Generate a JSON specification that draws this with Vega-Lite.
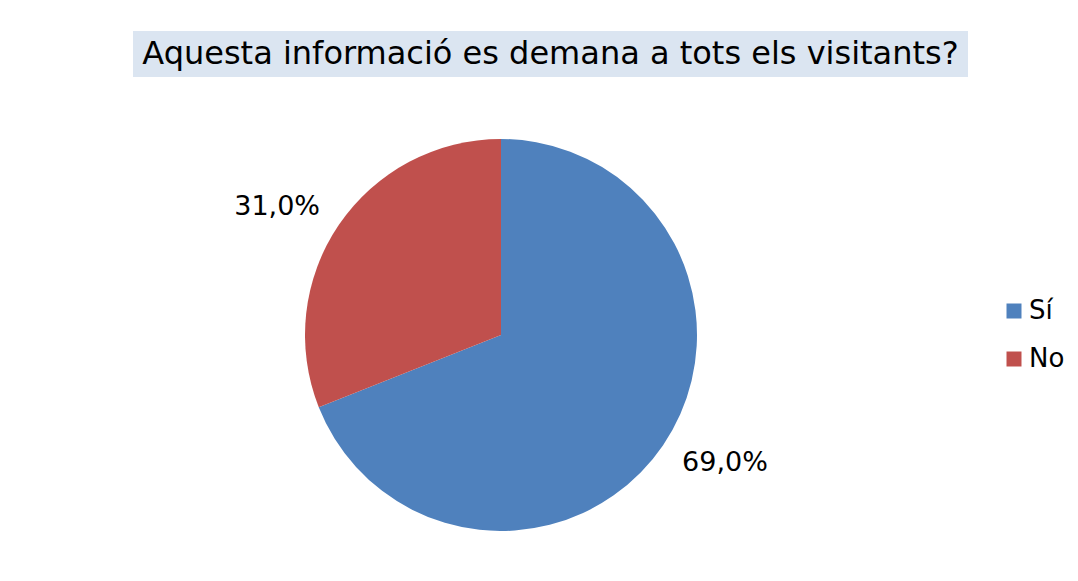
{
  "$schema": "https://vega.github.io/schema/vega-lite/v6.json",
  "padding": {"left": 133, "top": 31, "right": 0, "bottom": 0},
  "background": "white",
  "config": {"view": {"stroke": null}, "font": "DejaVu Sans"},
  "datasets": {
    "titleRow": [{"title": "Aquesta informació es demana a tots els visitants?"}],
    "answers": [
      {"resposta": "Sí", "percent": 69.0, "label": "69,0%"},
      {"resposta": "No", "percent": 31.0, "label": "31,0%"}
    ]
  },
  "vconcat": [
    {
      "width": 835,
      "height": 46,
      "view": {"fill": "#dbe5f1", "stroke": null},
      "data": {"name": "titleRow"},
      "mark": {"type": "text", "font": "DejaVu Sans", "fontSize": 32, "color": "#000000", "baseline": "middle", "align": "center"},
      "encoding": {"text": {"field": "title", "type": "nominal"}}
    },
    {
      "width": 736,
      "height": 392,
      "data": {"name": "answers"},
      "encoding": {
        "theta": {"field": "percent", "type": "quantitative", "stack": true},
        "order": {"field": "percent", "type": "quantitative", "sort": "descending"}
      },
      "layer": [
        {
          "mark": {"type": "arc", "outerRadius": 196},
          "encoding": {
            "color": {
              "field": "resposta",
              "type": "nominal",
              "scale": {"domain": ["Sí", "No"], "range": ["#4f81bd", "#c0504d"]},
              "legend": {
                "title": null,
                "orient": "none",
                "legendX": 868,
                "legendY": 267,
                "symbolType": "square",
                "symbolSize": 225,
                "symbolStrokeWidth": 0,
                "labelFont": "DejaVu Sans",
                "labelFontSize": 26,
                "labelColor": "#000000",
                "labelOffset": 2,
                "rowPadding": 22
              }
            }
          }
        },
        {
          "mark": {"type": "text", "radius": 258, "thetaOffset": -0.077, "font": "DejaVu Sans", "fontSize": 27, "color": "#000000", "align": "center", "baseline": "middle"},
          "encoding": {"text": {"field": "label", "type": "nominal"}}
        }
      ]
    }
  ],
  "spacing": 62
}
